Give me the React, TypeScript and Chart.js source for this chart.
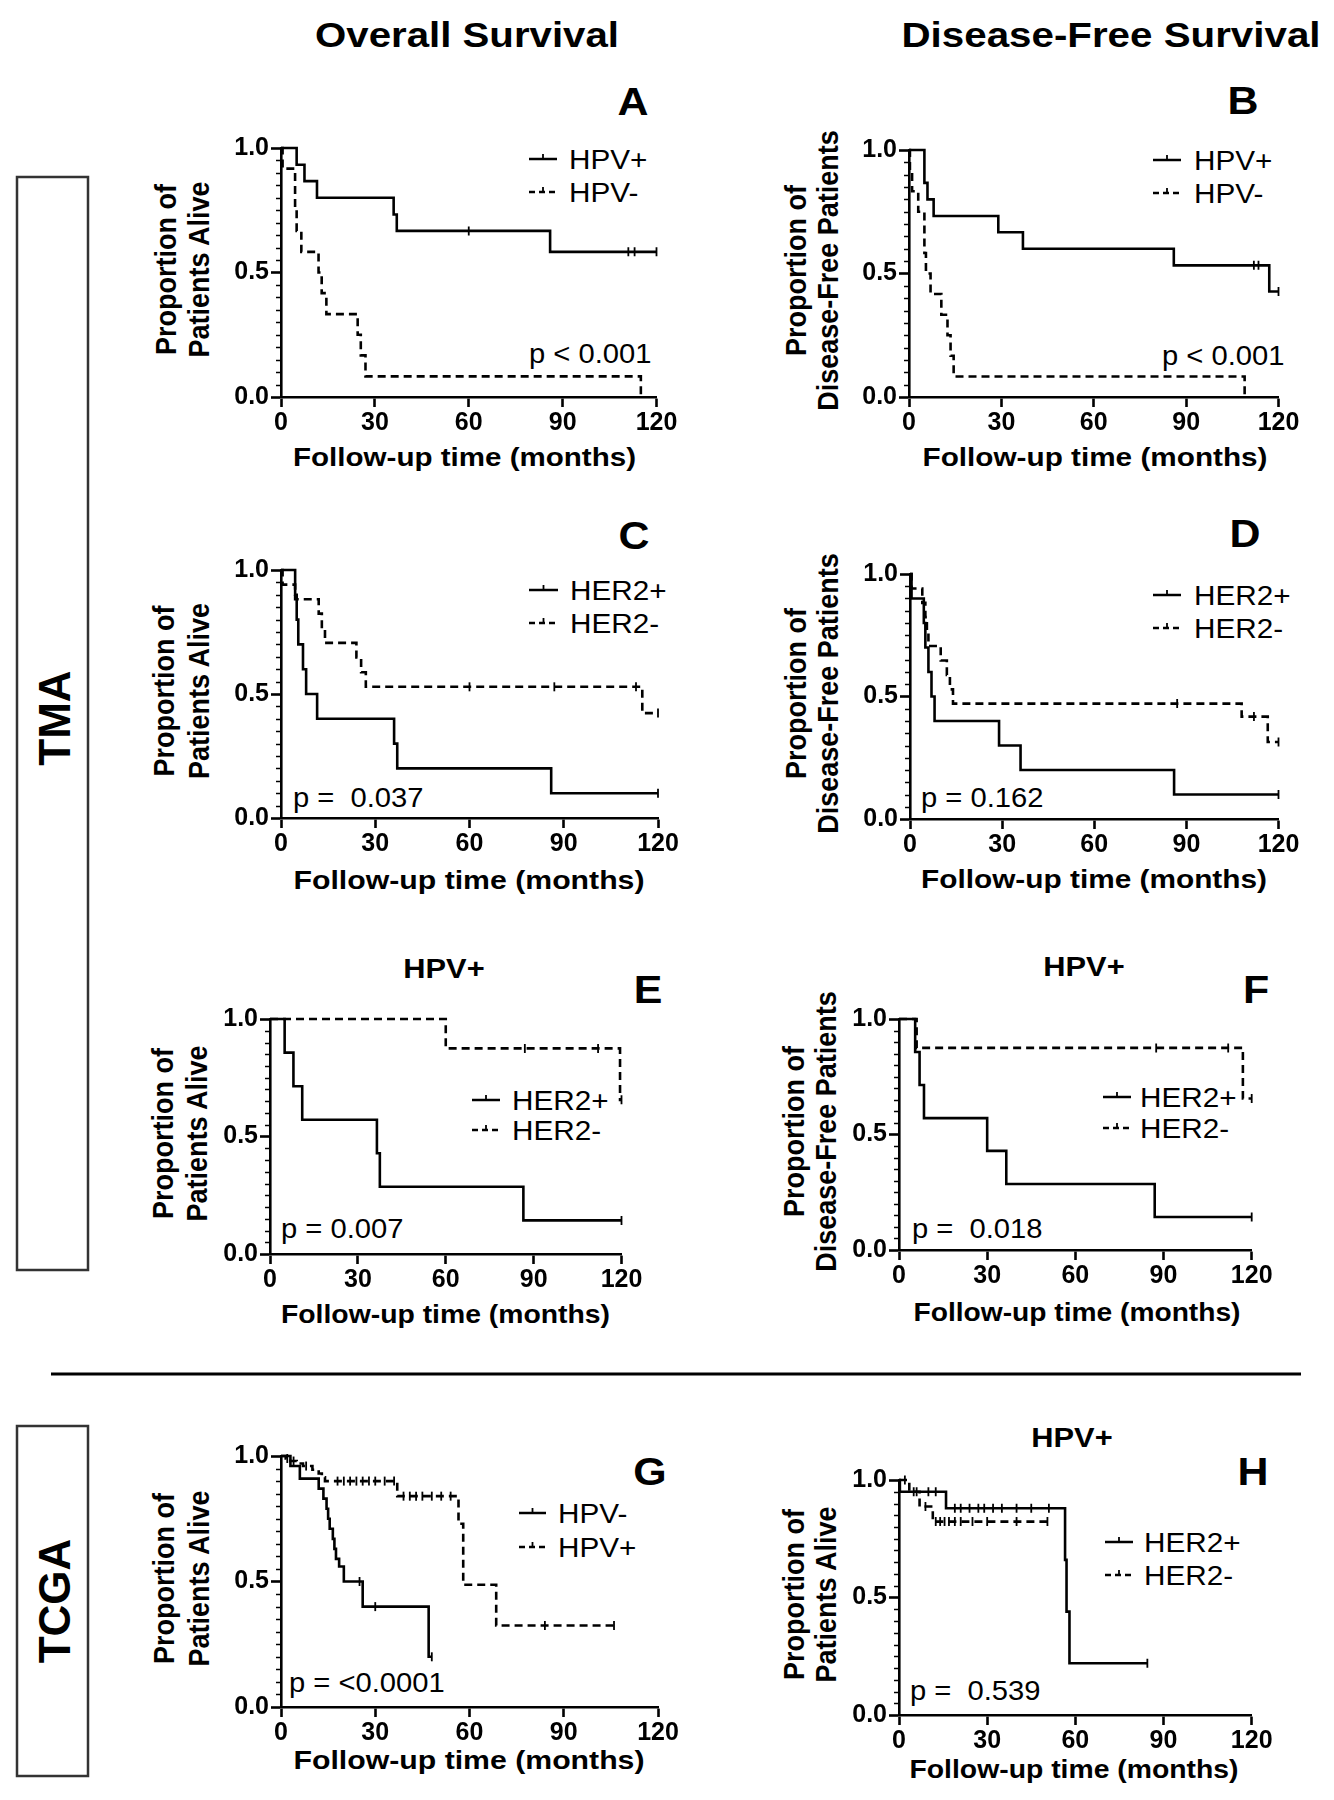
import React, { useEffect, useRef } from "react";
import { Chart, registerables } from "chart.js";
Chart.register(...registerables);

const FONT = "'Liberation Sans', Arial, Helvetica, sans-serif";

// ---- axes ----
const X_MIN = 0, X_MAX = 120, X_STEP = 30;
const Y_MIN = 0, Y_MAX = 1, Y_STEP = 0.5, Y_MINOR_STEP = 0.05;
const X_TITLE = "Follow-up time (months)";

// ---- Panel A : TMA overall survival by HPV ----
const A_pos_time = [0, 5, 7.5, 11.5, 36, 37, 86];
const A_pos_surv = [1, 0.933, 0.867, 0.8, 0.733, 0.667, 0.583];
const A_pos_cens = [60, 111, 113, 120];
const A_neg_time = [0, 0.5, 4.5, 5, 6.5, 12, 13, 14.5, 24.5, 25.5, 27, 115];
const A_neg_surv = [1, 0.917, 0.75, 0.667, 0.583, 0.5, 0.417, 0.333, 0.25, 0.167, 0.083, 0];
const A_neg_cens: number[] = [];

// ---- Panel B : TMA disease-free survival by HPV ----
const B_pos_time = [0, 5, 6, 8, 29, 37, 86, 117];
const B_pos_surv = [1, 0.867, 0.8, 0.733, 0.667, 0.6, 0.533, 0.427];
const B_pos_cens = [112, 113.5, 120];
const B_neg_time = [0, 0.3, 1, 3, 5, 5.5, 7, 10.5, 12.5, 13.5, 14.5, 109];
const B_neg_surv = [1, 0.917, 0.833, 0.75, 0.583, 0.5, 0.417, 0.333, 0.25, 0.167, 0.083, 0];
const B_neg_cens: number[] = [];

// ---- Panel C : TMA overall survival by HER2 ----
const C_pos_time = [0, 4.5, 5, 5.5, 7, 8, 11.5, 36, 37, 86];
const C_pos_surv = [1, 0.9, 0.8, 0.7, 0.6, 0.5, 0.4, 0.3, 0.2, 0.1];
const C_pos_cens = [120];
const C_neg_time = [0, 0.5, 4.5, 12, 13, 14, 24, 25.5, 27, 115];
const C_neg_surv = [1, 0.941, 0.882, 0.824, 0.765, 0.706, 0.647, 0.588, 0.529, 0.423];
const C_neg_cens = [60, 87, 113, 120];

// ---- Panel D : TMA disease-free survival by HER2 ----
const D_pos_time = [0, 0.5, 4.5, 5, 6, 7, 8, 29, 36, 86];
const D_pos_surv = [1, 0.9, 0.8, 0.7, 0.6, 0.5, 0.4, 0.3, 0.2, 0.1];
const D_pos_cens = [120];
const D_neg_time = [0, 0.5, 4, 5, 5.5, 6, 10, 12, 13, 14, 108, 116.5];
const D_neg_surv = [1, 0.941, 0.882, 0.824, 0.765, 0.706, 0.647, 0.588, 0.529, 0.471, 0.418, 0.314];
const D_neg_cens = [87, 112, 120];

// ---- Panel E : HPV+ overall survival by HER2 ----
const E_pos_time = [0, 5, 8, 11, 36.5, 37.5, 86.5];
const E_pos_surv = [1, 0.857, 0.714, 0.571, 0.429, 0.286, 0.143];
const E_pos_cens = [120];
const E_neg_time = [0, 60, 119.5];
const E_neg_surv = [1, 0.875, 0.656];
const E_neg_cens = [87, 112, 120];

// ---- Panel F : HPV+ disease-free survival by HER2 ----
const F_pos_time = [0, 5.5, 7, 8.5, 30, 36.5, 87];
const F_pos_surv = [1, 0.857, 0.714, 0.571, 0.429, 0.286, 0.143];
const F_pos_cens = [120];
const F_neg_time = [0, 6, 117];
const F_neg_surv = [1, 0.875, 0.656];
const F_neg_cens = [87.5, 112, 120];

// ---- Panel G : TCGA overall survival by HPV ----
const G_neg_time = [0, 3, 6, 12, 13.5, 14.5, 15, 15.5, 16.5, 17, 17.5, 18.5, 20, 26, 47];
const G_neg_surv = [1, 0.96, 0.91, 0.87, 0.83, 0.79, 0.75, 0.71, 0.67, 0.63, 0.59, 0.56, 0.5, 0.4, 0.2];
const G_neg_cens = [25, 30, 48];
const G_pos_time = [0, 1.5, 3, 5, 7, 10, 12, 13, 14, 37, 56.5, 58, 68.5];
const G_pos_surv = [1, 0.99, 0.98, 0.97, 0.96, 0.945, 0.93, 0.915, 0.9, 0.84, 0.73, 0.487, 0.325];
const G_pos_cens = [2, 4, 8, 18, 20, 22, 24, 26, 28, 30, 33, 36, 39, 41, 43, 45, 48, 51, 54, 84, 106];

// ---- Panel H : TCGA HPV+ overall survival by HER2 ----
const H_pos_time = [0, 0.3, 16, 56.5, 57, 58];
const H_pos_surv = [1, 0.95, 0.88, 0.66, 0.44, 0.22];
const H_pos_cens = [6, 10, 12.5, 19, 21, 24, 27, 29, 32, 35, 40, 45, 51, 84.5];
const H_neg_time = [0, 3.5, 7, 11.5];
const H_neg_surv = [1, 0.95, 0.887, 0.823];
const H_neg_cens = [2, 5, 9, 12.5, 14, 15.5, 17, 19, 21, 25, 30, 40, 50.5];

type Series = { label: string; dashed: boolean; time: number[]; surv: number[]; cens: number[] };
type PanelCfg = {
  letter: string;
  x0: number; x1: number; yT: number; yB: number;
  series: Series[];
  yTitle: string[]; yTitleX: number[];
  xTitle: { cx: number; base: number; len: number };
  legend: { sx: number; ex: number; tx: number; rows: number[] };
  p: { text: string; x: number; y: number };
  letterPos: { x: number; y: number };
  sub?: { text: string; x: number; y: number };
};

const YL_OS = ["Proportion of", "Patients Alive"];
const YL_DFS = ["Proportion of", "Disease-Free Patients"];

const PANELS: PanelCfg[] = [
  {
    letter: "A", x0: 281, x1: 656.5, yT: 148, yB: 397,
    series: [
      { label: "HPV+", dashed: false, time: A_pos_time, surv: A_pos_surv, cens: A_pos_cens },
      { label: "HPV-", dashed: true, time: A_neg_time, surv: A_neg_surv, cens: A_neg_cens },
    ],
    yTitle: YL_OS, yTitleX: [166, 199],
    xTitle: { cx: 464.5, base: 466, len: 343 },
    legend: { sx: 529, ex: 557, tx: 569, rows: [159, 192] },
    p: { text: "p < 0.001", x: 529, y: 363 },
    letterPos: { x: 633, y: 115 },
  },
  {
    letter: "B", x0: 909, x1: 1278.5, yT: 150, yB: 397,
    series: [
      { label: "HPV+", dashed: false, time: B_pos_time, surv: B_pos_surv, cens: B_pos_cens },
      { label: "HPV-", dashed: true, time: B_neg_time, surv: B_neg_surv, cens: B_neg_cens },
    ],
    yTitle: YL_DFS, yTitleX: [796, 828],
    xTitle: { cx: 1095, base: 466, len: 345 },
    legend: { sx: 1153, ex: 1181, tx: 1194, rows: [160, 193] },
    p: { text: "p < 0.001", x: 1162, y: 365 },
    letterPos: { x: 1243, y: 114 },
  },
  {
    letter: "C", x0: 281, x1: 658, yT: 570, yB: 818,
    series: [
      { label: "HER2+", dashed: false, time: C_pos_time, surv: C_pos_surv, cens: C_pos_cens },
      { label: "HER2-", dashed: true, time: C_neg_time, surv: C_neg_surv, cens: C_neg_cens },
    ],
    yTitle: YL_OS, yTitleX: [164, 198.5],
    xTitle: { cx: 469, base: 889, len: 351 },
    legend: { sx: 529, ex: 558, tx: 570, rows: [590, 623] },
    p: { text: "p =  0.037", x: 293, y: 807 },
    letterPos: { x: 634, y: 549 },
  },
  {
    letter: "D", x0: 910, x1: 1278.5, yT: 574, yB: 819,
    series: [
      { label: "HER2+", dashed: false, time: D_pos_time, surv: D_pos_surv, cens: D_pos_cens },
      { label: "HER2-", dashed: true, time: D_neg_time, surv: D_neg_surv, cens: D_neg_cens },
    ],
    yTitle: YL_DFS, yTitleX: [796, 828],
    xTitle: { cx: 1094, base: 888, len: 346 },
    legend: { sx: 1153, ex: 1181, tx: 1194, rows: [595, 628] },
    p: { text: "p = 0.162", x: 921, y: 807 },
    letterPos: { x: 1245, y: 547 },
  },
  {
    letter: "E", x0: 270, x1: 621.5, yT: 1019, yB: 1254,
    series: [
      { label: "HER2+", dashed: false, time: E_pos_time, surv: E_pos_surv, cens: E_pos_cens },
      { label: "HER2-", dashed: true, time: E_neg_time, surv: E_neg_surv, cens: E_neg_cens },
    ],
    yTitle: YL_OS, yTitleX: [162.5, 197],
    xTitle: { cx: 445.5, base: 1323, len: 329 },
    legend: { sx: 472, ex: 500, tx: 512, rows: [1100, 1130] },
    p: { text: "p = 0.007", x: 281, y: 1238 },
    letterPos: { x: 648, y: 1003 },
    sub: { text: "HPV+", x: 444, y: 978 },
  },
  {
    letter: "F", x0: 899.3, x1: 1252, yT: 1019, yB: 1250,
    series: [
      { label: "HER2+", dashed: false, time: F_pos_time, surv: F_pos_surv, cens: F_pos_cens },
      { label: "HER2-", dashed: true, time: F_neg_time, surv: F_neg_surv, cens: F_neg_cens },
    ],
    yTitle: YL_DFS, yTitleX: [794, 826],
    xTitle: { cx: 1077, base: 1321, len: 327 },
    legend: { sx: 1103, ex: 1131, tx: 1140, rows: [1097, 1128] },
    p: { text: "p =  0.018", x: 912, y: 1238 },
    letterPos: { x: 1256, y: 1003 },
    sub: { text: "HPV+", x: 1084, y: 976 },
  },
  {
    letter: "G", x0: 281, x1: 658, yT: 1456, yB: 1707,
    series: [
      { label: "HPV-", dashed: false, time: G_neg_time, surv: G_neg_surv, cens: G_neg_cens },
      { label: "HPV+", dashed: true, time: G_pos_time, surv: G_pos_surv, cens: G_pos_cens },
    ],
    yTitle: YL_OS, yTitleX: [164, 198.5],
    xTitle: { cx: 469, base: 1769, len: 351 },
    legend: { sx: 519, ex: 546, tx: 558, rows: [1513, 1547] },
    p: { text: "p = <0.0001", x: 289, y: 1692 },
    letterPos: { x: 650, y: 1485 },
  },
  {
    letter: "H", x0: 899.3, x1: 1252, yT: 1480, yB: 1715,
    series: [
      { label: "HER2+", dashed: false, time: H_pos_time, surv: H_pos_surv, cens: H_pos_cens },
      { label: "HER2-", dashed: true, time: H_neg_time, surv: H_neg_surv, cens: H_neg_cens },
    ],
    yTitle: YL_OS, yTitleX: [794, 826],
    xTitle: { cx: 1074, base: 1778, len: 329 },
    legend: { sx: 1105, ex: 1133, tx: 1144, rows: [1542, 1575] },
    p: { text: "p =  0.539", x: 910, y: 1700 },
    letterPos: { x: 1253, y: 1485 },
    sub: { text: "HPV+", x: 1072, y: 1447 },
  },
];

const YW = 60, XH = 50, PT = 30, PR = 30;
const DASH = [8, 5];

function survAt(time: number[], surv: number[], t: number) {
  let v = surv[0];
  for (let i = 0; i < time.length; i++) if (time[i] <= t) v = surv[i];
  return v;
}

const minorTicks = {
  id: "minorTicks",
  afterDraw(chart: any) {
    const { ctx, chartArea, scales } = chart;
    const y = scales.y;
    ctx.save();
    ctx.strokeStyle = "#000";
    ctx.lineWidth = 1.5;
    const n = Math.round((Y_MAX - Y_MIN) / Y_MINOR_STEP);
    for (let i = 1; i < n; i++) {
      const v = Y_MIN + i * Y_MINOR_STEP;
      if (Math.abs(v / Y_STEP - Math.round(v / Y_STEP)) < 1e-6) continue;
      const py = Math.round(y.getPixelForValue(v)) + 0.5;
      ctx.beginPath();
      ctx.moveTo(chartArea.left - 5, py);
      ctx.lineTo(chartArea.left, py);
      ctx.stroke();
    }
    ctx.restore();
  },
};

function KMPanel({ cfg }: { cfg: PanelCfg }) {
  const ref = useRef<HTMLCanvasElement>(null);
  const L = cfg.x0 - YW;
  const T = cfg.yT - PT;
  const W = Math.round(YW + (cfg.x1 - cfg.x0) + PR);
  const H = PT + (cfg.yB - cfg.yT) + XH;
  useEffect(() => {
    const datasets: any[] = [];
    cfg.series.forEach((se) => {
      const pts = se.time.map((t, i) => ({ x: t, y: se.surv[i] }));
      const lastT = se.time[se.time.length - 1];
      const tEnd = Math.max(lastT, ...se.cens);
      if (tEnd > lastT) pts.push({ x: tEnd, y: se.surv[se.surv.length - 1] });
      datasets.push({
        label: se.label,
        data: pts,
        stepped: true,
        borderColor: "#000",
        borderWidth: 2.6,
        borderDash: se.dashed ? DASH : [],
        pointRadius: 0,
        fill: false,
        clip: 10,
      });
      datasets.push({
        label: se.label + " censored",
        data: se.cens.map((c) => ({ x: c, y: survAt(se.time, se.surv, c) })),
        showLine: false,
        pointStyle: "line",
        rotation: 90,
        pointRadius: 4.5,
        pointBorderColor: "#000",
        pointBackgroundColor: "#000",
        pointBorderWidth: 1.8,
        borderColor: "#000",
        clip: 10,
      });
    });
    const tickFont = { family: FONT, size: 25, weight: "bold" as const };
    const gridOpts = {
      display: true,
      drawOnChartArea: false,
      drawTicks: true,
      tickLength: 10,
      tickWidth: 2.6,
      tickColor: "#000",
    };
    const chart = new Chart(ref.current as HTMLCanvasElement, {
      type: "line",
      data: { datasets },
      options: {
        animation: false,
        responsive: false,
        maintainAspectRatio: false,
        layout: { padding: { left: 0, right: W - YW - (cfg.x1 - cfg.x0), top: PT, bottom: 0 } },
        scales: {
          x: {
            type: "linear",
            min: X_MIN,
            max: X_MAX,
            afterFit: (s: any) => { s.height = XH; },
            ticks: { stepSize: X_STEP, color: "#000", font: tickFont, padding: 1, maxRotation: 0, autoSkip: false },
            grid: gridOpts,
            border: { display: true, color: "#000", width: 2.6 },
          },
          y: {
            type: "linear",
            min: Y_MIN,
            max: Y_MAX,
            afterFit: (s: any) => { s.width = YW; },
            ticks: { stepSize: Y_STEP, color: "#000", font: tickFont, padding: 2, callback: (v: any) => Number(v).toFixed(1) },
            grid: gridOpts,
            border: { display: true, color: "#000", width: 2.6 },
          },
        },
        plugins: { legend: { display: false }, tooltip: { enabled: false }, title: { display: false } },
      } as any,
      plugins: [minorTicks],
    });
    return () => chart.destroy();
  }, []);
  return (
    <canvas
      ref={ref}
      width={W}
      height={H}
      style={{ position: "absolute", left: L, top: T, width: W, height: H }}
    />
  );
}

// text stretched horizontally (the source figure is slightly widened)
function ST(props: { x: number; y: number; sx?: number; size: number; bold?: boolean; anchor?: string; baseline?: string; children: any }) {
  const { x, y, sx = 1, size, bold, anchor = "start", baseline, children } = props;
  return (
    <text
      transform={`translate(${x},${y}) scale(${sx},1)`}
      textAnchor={anchor}
      dominantBaseline={baseline}
      fontFamily={FONT}
      fontSize={size}
      fontWeight={bold ? "bold" : "normal"}
      fill="#000"
      style={{ whiteSpace: "pre" }}
    >
      {children}
    </text>
  );
}

function Overlay() {
  return (
    <svg width={1334} height={1800} style={{ position: "absolute", left: 0, top: 0 }}>
      <rect x={0} y={0} width={1334} height={1800} fill="#fff" />
      <text x={467} y={47} textAnchor="middle" fontFamily={FONT} fontSize={35} fontWeight="bold" textLength={304} lengthAdjust="spacingAndGlyphs">Overall Survival</text>
      <text x={1111} y={47} textAnchor="middle" fontFamily={FONT} fontSize={35} fontWeight="bold" textLength={419} lengthAdjust="spacingAndGlyphs">Disease-Free Survival</text>

      <rect x={17} y={177} width={71} height={1093} fill="none" stroke="#333" strokeWidth={2.5} />
      <text transform="translate(54,718) rotate(-90)" textAnchor="middle" dominantBaseline="central" fontFamily={FONT} fontSize={44} fontWeight="bold">TMA</text>
      <line x1={51} y1={1374} x2={1301} y2={1374} stroke="#000" strokeWidth={3} />
      <rect x={17} y={1426} width={71} height={350} fill="none" stroke="#333" strokeWidth={2.5} />
      <text transform="translate(54,1601) rotate(-90)" textAnchor="middle" dominantBaseline="central" fontFamily={FONT} fontSize={44} fontWeight="bold">TCGA</text>

      {PANELS.map((p) => {
        const cy = (p.yT + p.yB) / 2 - 3;
        return (
          <g key={p.letter}>
            <ST x={p.letterPos.x} y={p.letterPos.y} size={39} sx={1.1} bold anchor="middle">{p.letter}</ST>
            {p.sub && (
              <ST x={p.sub.x} y={p.sub.y} size={28} sx={1.1} bold anchor="middle">{p.sub.text}</ST>
            )}
            {p.yTitle.map((line, i) => (
              <text key={i} transform={`translate(${p.yTitleX[i]},${cy}) rotate(-90) scale(1,1.1)`} textAnchor="middle" dominantBaseline="central" fontFamily={FONT} fontSize={27} fontWeight="bold">{line}</text>
            ))}
            <text x={p.xTitle.cx} y={p.xTitle.base} textAnchor="middle" fontFamily={FONT} fontSize={25} fontWeight="bold" textLength={p.xTitle.len} lengthAdjust="spacingAndGlyphs">{X_TITLE}</text>
            {p.series.map((se, i) => {
              const ry = p.legend.rows[i];
              const mx = (p.legend.sx + p.legend.ex) / 2;
              return (
                <g key={i}>
                  <line x1={p.legend.sx} y1={ry} x2={p.legend.ex} y2={ry} stroke="#000" strokeWidth={2.5} strokeDasharray={se.dashed ? "6 4" : undefined} />
                  <line x1={mx} y1={ry - 5} x2={mx} y2={ry} stroke="#000" strokeWidth={1.8} />
                  <ST x={p.legend.tx} y={ry + 10} size={27} sx={1.1}>{se.label}</ST>
                </g>
              );
            })}
            <ST x={p.p.x} y={p.p.y} size={27} sx={1.08}>{p.p.text}</ST>
          </g>
        );
      })}
    </svg>
  );
}

export default function App() {
  return (
    <div style={{ position: "absolute", left: 0, top: 0, width: 1334, height: 1800, background: "#fff", overflow: "hidden" }}>
      <Overlay />
      {PANELS.map((p) => (
        <KMPanel key={p.letter} cfg={p} />
      ))}
    </div>
  );
}
